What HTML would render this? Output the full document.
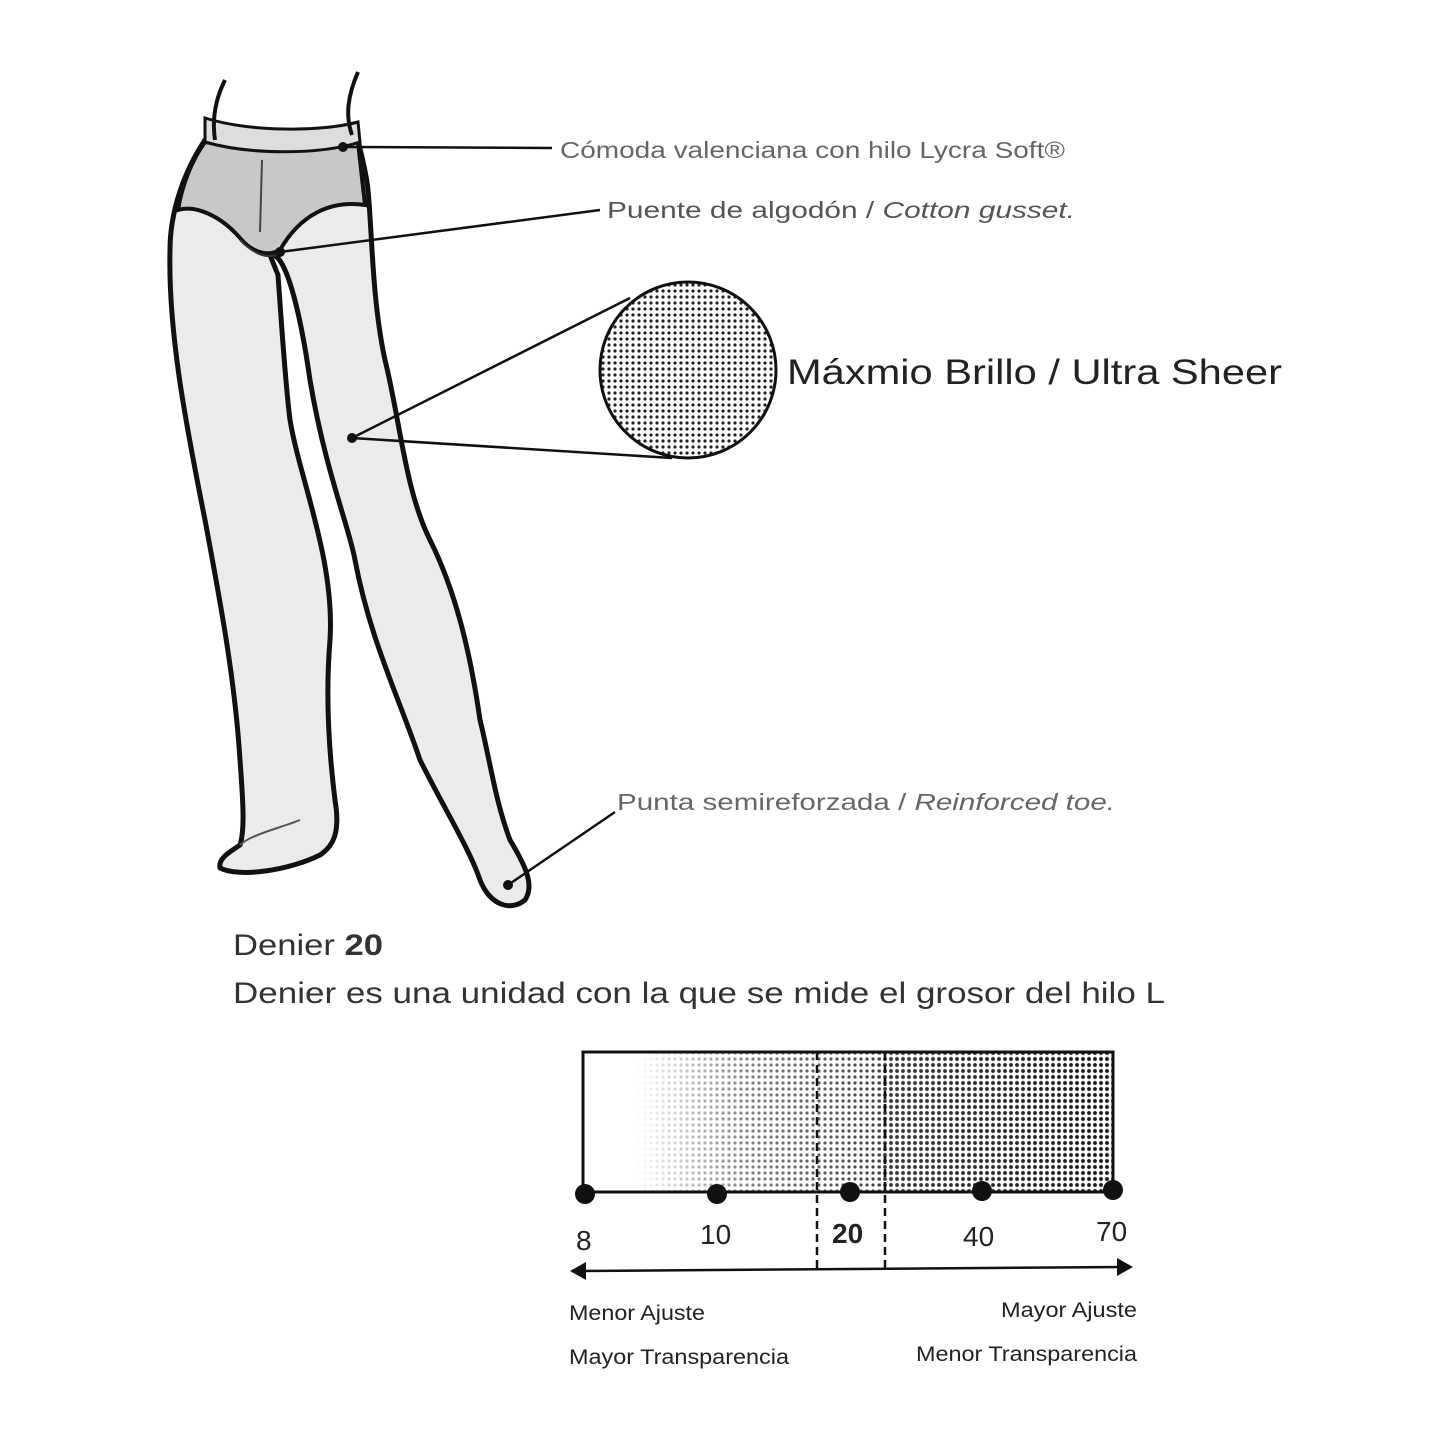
<!DOCTYPE html>
<html><head><meta charset="utf-8"><style>
html,body{margin:0;padding:0;background:#fff;}
svg{display:block}
text{font-family:"Liberation Sans",sans-serif;}
</style></head><body>
<svg width="1445" height="1445" viewBox="0 0 1445 1445" xmlns="http://www.w3.org/2000/svg">
<defs>
<pattern id="dots" width="6" height="6" patternUnits="userSpaceOnUse">
<circle cx="3" cy="3" r="1.6" fill="#222"/>
</pattern>
<pattern id="dots2" width="6" height="6" patternUnits="userSpaceOnUse">
<circle cx="3" cy="3" r="2.2" fill="#111"/>
</pattern>
<linearGradient id="fade" x1="0" x2="1" y1="0" y2="0">
<stop offset="0" stop-color="#fff" stop-opacity="1"/>
<stop offset="0.1" stop-color="#fff" stop-opacity="1"/>
<stop offset="0.3" stop-color="#fff" stop-opacity="0.45"/>
<stop offset="0.55" stop-color="#fff" stop-opacity="0.15"/>
<stop offset="1" stop-color="#fff" stop-opacity="0"/>
</linearGradient>
<clipPath id="cc"><circle cx="688" cy="370" r="88"/></clipPath>
</defs>

<g stroke="#111" stroke-width="5" fill="#ebebeb" stroke-linejoin="round">
<path d="M205,140 C185,170 170,210 170,250 C168,330 185,420 205,520 C220,600 235,680 240,760 C243,800 245,830 240,845 C230,852 218,858 220,868 C240,878 290,870 320,855 C335,845 340,830 335,800 C330,760 325,700 330,640 C335,560 300,480 290,420 C285,380 282,330 278,275 L270,255 C285,250 300,310 310,380 C325,470 350,530 355,560 C370,640 400,700 420,760 C445,810 470,850 480,880 C490,905 510,912 525,900 C535,885 525,865 510,840 C495,800 490,760 480,720 C470,650 455,590 430,540 C405,490 400,420 385,360 C372,300 372,230 368,190 C366,170 360,150 358,140 Z"/>
</g>
<path d="M205,142 C250,150 320,150 358,142 L365,205 C330,200 300,215 280,250 C265,258 250,250 240,238 C220,215 195,205 178,210 C182,185 192,160 205,142 Z" fill="#c8c8c8" stroke="#111" stroke-width="4"/>
<path d="M205,118 C250,132 320,132 358,122 L360,142 C320,155 250,155 205,142 Z" fill="#ddd" stroke="#111" stroke-width="3"/>
<line x1="262" y1="160" x2="260" y2="232" stroke="#444" stroke-width="2"/>
<path d="M240,240 C255,255 270,262 285,250" fill="none" stroke="#333" stroke-width="2"/>
<path d="M225,80 C215,100 212,120 215,140" fill="none" stroke="#111" stroke-width="4"/>
<path d="M358,72 C348,95 345,115 352,135" fill="none" stroke="#111" stroke-width="4"/>
<path d="M240,845 C250,835 280,828 300,820" fill="none" stroke="#555" stroke-width="2"/>

<g stroke="#111" stroke-width="2.5" fill="none">
<line x1="343" y1="147" x2="552" y2="148"/>
<line x1="280" y1="252" x2="600" y2="210"/>
<line x1="352" y1="438" x2="630" y2="298"/>
<line x1="352" y1="438" x2="672" y2="458"/>
<line x1="508" y1="885" x2="615" y2="812"/>
</g>
<g fill="#111"><circle cx="343" cy="147" r="5"/><circle cx="280" cy="252" r="5"/><circle cx="352" cy="438" r="5"/><circle cx="508" cy="885" r="5"/></g>

<circle cx="688" cy="370" r="88" fill="#fff"/>
<rect x="598" y="280" width="180" height="180" fill="url(#dots)" clip-path="url(#cc)"/>
<circle cx="688" cy="370" r="88" fill="none" stroke="#111" stroke-width="3"/>

<text x="560" y="158" font-size="23" fill="#666" textLength="505" lengthAdjust="spacingAndGlyphs">Cómoda valenciana con hilo Lycra Soft®</text>
<text x="607" y="218" font-size="23" fill="#555" textLength="468" lengthAdjust="spacingAndGlyphs">Puente de algodón / <tspan font-style="italic">Cotton gusset.</tspan></text>
<text x="787" y="384" font-size="35" fill="#222" textLength="495" lengthAdjust="spacingAndGlyphs">Máxmio Brillo / Ultra Sheer</text>
<text x="617" y="810" font-size="23" fill="#666" textLength="498" lengthAdjust="spacingAndGlyphs">Punta semireforzada / <tspan font-style="italic">Reinforced toe.</tspan></text>

<text x="233" y="955" font-size="30" fill="#333" textLength="150" lengthAdjust="spacingAndGlyphs">Denier <tspan font-weight="bold">20</tspan></text>
<text x="233" y="1003" font-size="30" fill="#333" textLength="932" lengthAdjust="spacingAndGlyphs">Denier es una unidad con la que se mide el grosor del hilo L</text>

<rect x="583" y="1052" width="530" height="140" fill="#fff"/>
<rect x="583" y="1052" width="530" height="140" fill="url(#dots)"/>
<rect x="880" y="1052" width="233" height="140" fill="url(#dots2)" opacity="0.6"/>
<rect x="583" y="1052" width="530" height="140" fill="url(#fade)"/>
<rect x="583" y="1052" width="530" height="140" fill="none" stroke="#111" stroke-width="3"/>
<line x1="817" y1="1052" x2="817" y2="1270" stroke="#111" stroke-width="2.5" stroke-dasharray="8,5"/>
<line x1="885" y1="1052" x2="885" y2="1270" stroke="#111" stroke-width="2.5" stroke-dasharray="8,5"/>
<g fill="#111"><circle cx="585" cy="1194" r="10"/><circle cx="717" cy="1194" r="10"/><circle cx="850" cy="1192" r="10"/><circle cx="982" cy="1191" r="10"/><circle cx="1113" cy="1190" r="10"/></g>
<g font-size="28" fill="#222">
<text x="576" y="1250">8</text>
<text x="700" y="1244">10</text>
<text x="832" y="1243" font-weight="bold">20</text>
<text x="963" y="1246">40</text>
<text x="1096" y="1241">70</text>
</g>
<line x1="580" y1="1271" x2="1125" y2="1267" stroke="#111" stroke-width="2.5"/>
<path d="M570,1271 L586,1262 L586,1280 Z" fill="#111"/>
<path d="M1133,1267 L1117,1258 L1117,1276 Z" fill="#111"/>
<g font-size="21" fill="#222">
<text x="569" y="1320" textLength="136" lengthAdjust="spacingAndGlyphs">Menor Ajuste</text>
<text x="569" y="1364" textLength="220" lengthAdjust="spacingAndGlyphs">Mayor Transparencia</text>
<text x="1001" y="1317" textLength="136" lengthAdjust="spacingAndGlyphs">Mayor Ajuste</text>
<text x="916" y="1361" textLength="221" lengthAdjust="spacingAndGlyphs">Menor Transparencia</text>
</g>
</svg>
</body></html>
